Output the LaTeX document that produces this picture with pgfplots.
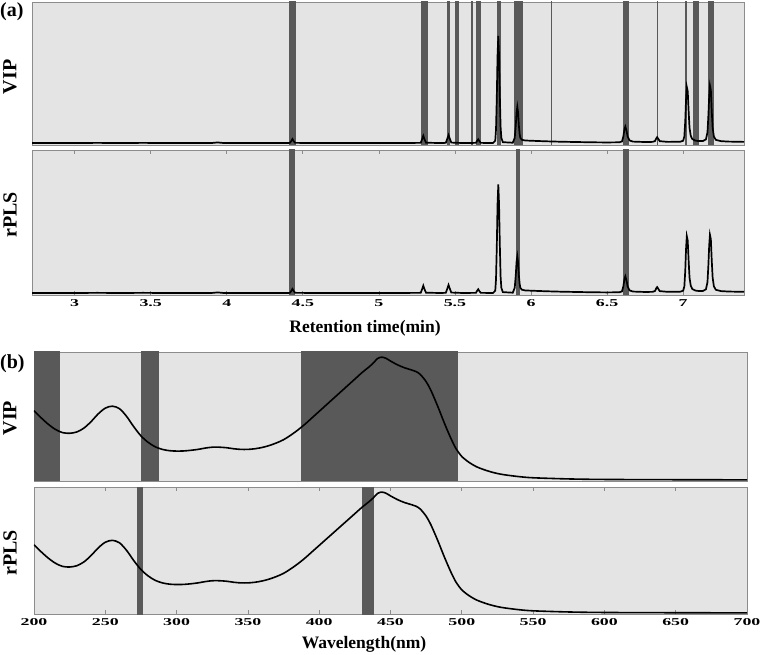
\documentclass[border=0pt]{standalone}
\usepackage{fontspec}
\setmainfont{Liberation Serif}
\usepackage{graphicx}
\usepackage{pgfplots}
\usepackage{pgfplotstable}
\pgfplotsset{compat=1.18}

\definecolor{bg}{HTML}{E4E4E4}
\definecolor{band}{HTML}{595959}
\definecolor{frame}{HTML}{8C8C8C}

% chromatogram, relative intensity
\pgfplotstableread{
t y
2.72 0.004
3.00 0.004
3.15 0.005
3.30 0.004
3.45 0.005
3.60 0.004
3.90 0.004
3.94 0.008
3.98 0.004
4.20 0.004
4.40 0.004
4.415 0.005
4.423 0.016
4.432 0.032
4.441 0.016
4.450 0.005
4.60 0.004
4.90 0.004
5.10 0.004
5.275 0.005
5.284 0.03
5.292 0.055
5.300 0.03
5.310 0.006
5.40 0.004
5.440 0.005
5.450 0.035
5.458 0.06
5.466 0.035
5.476 0.007
5.55 0.004
5.638 0.005
5.646 0.02
5.653 0.03
5.660 0.018
5.670 0.005
5.750 0.004
5.765 0.02
5.770 0.10
5.775 0.32
5.780 0.62
5.785 0.76
5.790 0.62
5.795 0.34
5.800 0.12
5.805 0.04
5.815 0.01
5.880 0.006
5.893 0.04
5.900 0.13
5.905 0.22
5.910 0.26
5.915 0.22
5.920 0.13
5.925 0.07
5.930 0.04
5.940 0.027
5.960 0.022
6.00 0.02
6.10 0.016
6.20 0.013
6.30 0.011
6.40 0.009
6.50 0.008
6.58 0.009
6.598 0.015
6.607 0.05
6.614 0.10
6.620 0.12
6.627 0.095
6.635 0.05
6.648 0.022
6.67 0.014
6.75 0.011
6.80 0.012
6.815 0.018
6.823 0.036
6.829 0.045
6.836 0.034
6.846 0.017
6.90 0.012
6.98 0.013
7.000 0.02
7.008 0.05
7.014 0.16
7.019 0.31
7.024 0.40
7.030 0.37
7.036 0.23
7.042 0.11
7.050 0.055
7.060 0.032
7.080 0.021
7.10 0.018
7.13 0.018
7.150 0.03
7.160 0.08
7.166 0.20
7.171 0.33
7.176 0.41
7.182 0.38
7.188 0.23
7.194 0.11
7.202 0.05
7.215 0.026
7.25 0.017
7.30 0.014
7.40 0.012
}\chrom

% UV-Vis spectrum, relative absorbance
\pgfplotstableread{
w y
200 0.545
205 0.49
210 0.44
215 0.40
220 0.375
225 0.37
230 0.38
235 0.41
240 0.46
245 0.52
250 0.565
255 0.58
260 0.56
265 0.50
270 0.42
275 0.35
280 0.30
285 0.265
290 0.245
295 0.235
300 0.232
305 0.233
310 0.238
315 0.245
320 0.255
325 0.262
330 0.262
335 0.258
340 0.25
345 0.245
350 0.245
355 0.25
360 0.26
365 0.275
370 0.295
375 0.32
380 0.355
385 0.395
390 0.44
395 0.49
400 0.54
405 0.59
410 0.64
415 0.69
420 0.74
425 0.79
430 0.84
435 0.885
438 0.915
441 0.95
444 0.96
447 0.95
450 0.93
455 0.90
460 0.877
465 0.86
468 0.848
471 0.825
475 0.77
478 0.71
481 0.635
484 0.555
487 0.47
490 0.39
493 0.315
496 0.25
500 0.19
505 0.145
510 0.112
515 0.09
520 0.072
525 0.058
530 0.048
540 0.034
550 0.025
575 0.016
600 0.012
650 0.010
700 0.009
}\spec

\pgfplotsset{
  panel/.style={
    scale only axis,
    anchor=north west,
    axis background/.style={fill=bg},
    axis line style={frame, line width=0.9pt},
    ytick=\empty,
    ymin=-0.01, ymax=1,
    tick style={frame, line width=0.7pt},
    tick align=inside,
    major tick length=4pt,
    xticklabel={\mbox{\scalebox{1.7}[1]{\bfseries\fontsize{10.5}{10.5}\selectfont\pgfmathprintnumber[assume math mode=true]{\tick}}}},
    xticklabel style={yshift=-1pt},
  },
  bandfill/.style={fill=band, draw=none, forget plot},
}

\begin{document}
\begin{tikzpicture}
\useasboundingbox (0,0) rectangle (761pt,-655pt);

% ---- (a) VIP
\begin{axis}[panel, at={(32pt,-2pt)}, width=712pt, height=143pt,
  xmin=2.72, xmax=7.40, xtick=\empty]
\addplot[bandfill] coordinates {(4.408,-1)(4.408,2)(4.454,2)(4.454,-1)} -- cycle;
\addplot[bandfill] coordinates {(5.274,-1)(5.274,2)(5.320,2)(5.320,-1)} -- cycle;
\addplot[bandfill] coordinates {(5.445,-1)(5.445,2)(5.469,2)(5.469,-1)} -- cycle;
\addplot[bandfill] coordinates {(5.502,-1)(5.502,2)(5.524,2)(5.524,-1)} -- cycle;
\addplot[bandfill] coordinates {(5.603,-1)(5.603,2)(5.618,2)(5.618,-1)} -- cycle;
\addplot[bandfill] coordinates {(5.636,-1)(5.636,2)(5.671,2)(5.671,-1)} -- cycle;
\addplot[bandfill] coordinates {(5.774,-1)(5.774,2)(5.805,2)(5.805,-1)} -- cycle;
\addplot[bandfill] coordinates {(5.886,-1)(5.886,2)(5.945,2)(5.945,-1)} -- cycle;
\addplot[bandfill] coordinates {(6.131,-1)(6.131,2)(6.138,2)(6.138,-1)} -- cycle;
\addplot[bandfill] coordinates {(6.605,-1)(6.605,2)(6.643,2)(6.643,-1)} -- cycle;
\addplot[bandfill] coordinates {(6.826,-1)(6.826,2)(6.833,2)(6.833,-1)} -- cycle;
\addplot[bandfill] coordinates {(7.009,-1)(7.009,2)(7.028,2)(7.028,-1)} -- cycle;
\addplot[bandfill] coordinates {(7.066,-1)(7.066,2)(7.107,2)(7.107,-1)} -- cycle;
\addplot[bandfill] coordinates {(7.162,-1)(7.162,2)(7.202,2)(7.202,-1)} -- cycle;
\addplot[black, line width=1.7pt] table[x=t, y=y] {\chrom};
\end{axis}

% ---- (a) rPLS
\begin{axis}[panel, at={(32pt,-150pt)}, width=712pt, height=145pt,
  xmin=2.72, xmax=7.40, xtick pos=both,
  xtick={3,3.5,4,4.5,5,5.5,6,6.5,7}]
\addplot[bandfill] coordinates {(4.410,-1)(4.410,2)(4.450,2)(4.450,-1)} -- cycle;
\addplot[bandfill] coordinates {(5.901,-1)(5.901,2)(5.930,2)(5.930,-1)} -- cycle;
\addplot[bandfill] coordinates {(6.605,-1)(6.605,2)(6.643,2)(6.643,-1)} -- cycle;
\addplot[black, line width=1.7pt] table[x=t, y=y] {\chrom};
\end{axis}

% ---- (b) VIP
\begin{axis}[panel, at={(34pt,-352pt)}, width=713pt, height=129pt,
  xmin=200, xmax=700, ymin=0, xtick=\empty]
\addplot[bandfill] coordinates {(200,-1)(200,2)(218.5,2)(218.5,-1)} -- cycle;
\addplot[bandfill] coordinates {(275,-1)(275,2)(287.5,2)(287.5,-1)} -- cycle;
\addplot[bandfill] coordinates {(387,-1)(387,2)(497,2)(497,-1)} -- cycle;
\addplot[black, line width=1.6pt, smooth] table[x=w, y=y] {\spec};
\end{axis}

% ---- (b) rPLS
\begin{axis}[panel, at={(34pt,-487pt)}, width=713pt, height=127pt,
  xmin=200, xmax=700, ymin=0, xtick pos=both,
  xtick={200,250,...,700}]
\addplot[bandfill] coordinates {(272.5,-1)(272.5,2)(276.3,2)(276.3,-1)} -- cycle;
\addplot[bandfill] coordinates {(430.3,-1)(430.3,2)(438.2,2)(438.2,-1)} -- cycle;
\addplot[black, line width=1.6pt, smooth] table[x=w, y=y] {\spec};
\end{axis}

% panel letters and labels
\node[anchor=base west, font=\bfseries\fontsize{20}{20}\selectfont, inner sep=0pt] at (0pt,-17pt) {(a)};
\node[anchor=base west, font=\bfseries\fontsize{20}{20}\selectfont, inner sep=0pt] at (0pt,-368pt) {(b)};
\node[rotate=90, font=\bfseries\fontsize{20}{20}\selectfont] at (10pt,-77pt) {VIP};
\node[rotate=90, font=\bfseries\fontsize{20}{20}\selectfont] at (10pt,-215pt) {rPLS};
\node[rotate=90, font=\bfseries\fontsize{20}{20}\selectfont] at (10pt,-418pt) {VIP};
\node[rotate=90, font=\bfseries\fontsize{20}{20}\selectfont] at (10pt,-553pt) {rPLS};
\node[anchor=base, font=\bfseries\fontsize{17.5}{17.5}\selectfont, inner sep=0pt] at (365pt,-332pt) {Retention time(min)};
\node[anchor=base, font=\bfseries\fontsize{17.5}{17.5}\selectfont, inner sep=0pt] at (364pt,-648pt) {Wavelength(nm)};
\end{tikzpicture}
\end{document}
